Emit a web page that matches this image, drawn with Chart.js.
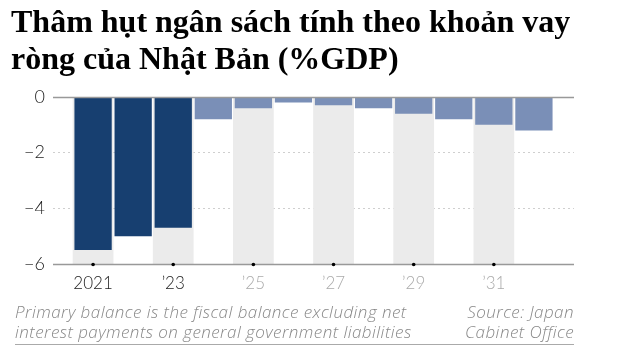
<!DOCTYPE html>
<html>
<head>
<meta charset="utf-8">
<script src="https://cdn.jsdelivr.net/npm/chart.js@4"></script>
<style>
  html, body { margin: 0; padding: 0; background: #fff; }
  #wrap { position: relative; width: 620px; height: 360px; overflow: hidden; }
  #title { position: absolute; left: 11px; top: 3px; font-family: "Liberation Serif", serif; font-weight: bold; font-size: 32px; line-height: 37px; color: #000; white-space: nowrap; }
  .note { position: absolute; top: 302px; font-family: "Open Sans", sans-serif; font-style: italic; font-weight: 300; font-size: 17px; letter-spacing: 0.45px; line-height: 20px; color: #888; white-space: nowrap; }
  #rule { position: absolute; left: 15px; top: 344px; width: 559px; height: 0; border-top: 1.5px solid #aaa; }
  canvas { position: absolute; left: 0; top: 0; }
</style>
</head>
<body>
<div id="wrap">
  <canvas id="myChart" width="620" height="360"></canvas>
  <div id="title">Thâm hụt ngân sách tính theo khoản vay<br>ròng của Nhật Bản (%GDP)</div>
  <div class="note" style="left:15px;">Primary balance is the fiscal balance excluding net<br>interest payments on general government liabilities</div>
  <div class="note" style="right:46px; text-align:right;">Source: Japan<br>Cabinet Office</div>
  <div id="rule"></div>
</div>
<script>
var years = [2021, 2022, 2023, 2024, 2025, 2026, 2027, 2028, 2029, 2030, 2031, 2032];
var balance = [-5.5, -5.0, -4.7, -0.8, -0.4, -0.2, -0.3, -0.4, -0.6, -0.8, -1.0, -1.2];
var tickYears = [2021, 2023, 2025, 2027, 2029, 2031];
var tickLabels = ['2021', '\u201923', '\u201925', '\u201927', '\u201929', '\u201931'];
var yTicks = [0, -2, -4, -6];
var lastActual = 2023;

var barColors = years.map(function (y) { return y <= lastActual ? '#173f70' : '#7a8fb7'; });
// shaded bands behind every other year
var bandYears = years.filter(function (y, i) { return i % 2 === 0; });

var axisLines = {
    id: 'axisLines',
    afterDatasetsDraw: function (chart) {
        var c = chart.ctx, a = chart.chartArea, xs = chart.scales.x, ys = chart.scales.y;
        c.save();
        c.strokeStyle = '#999';
        c.lineWidth = 1.5;
        var py0 = Math.round(ys.getPixelForValue(0)) + 0.5;
        c.beginPath(); c.moveTo(a.left, py0); c.lineTo(a.right, py0); c.stroke();
        var py6 = Math.round(ys.getPixelForValue(-6)) + 0.5;
        c.beginPath(); c.moveTo(a.left, py6); c.lineTo(a.right, py6); c.stroke();
        c.fillStyle = '#000';
        tickYears.forEach(function (t) {
            c.beginPath();
            c.arc(xs.getPixelForValue(t), py6, 1.8, 0, Math.PI * 2);
            c.fill();
        });
        c.restore();
    }
};

var ctx = document.getElementById('myChart').getContext('2d');
var myChart = new Chart(ctx, {
    type: 'bar',
    data: {
        datasets: [{
            label: 'Balance',
            data: years.map(function (y, i) { return { x: y, y: balance[i] }; }),
            backgroundColor: barColors,
            barPercentage: 0.93,
            categoryPercentage: 1,
            grouped: false,
            order: 1
        },
        {
            label: 'Band',
            data: bandYears.map(function (y) { return { x: y, y: -6 }; }),
            backgroundColor: '#ebebeb',
            barPercentage: 1,
            categoryPercentage: 1,
            grouped: false,
            order: 2
        }]
    },
    plugins: [axisLines],
    options: {
        responsive: false,
        animation: false,
        layout: { padding: { top: 97, right: 46, bottom: 0, left: 0 } },
        plugins: {
            legend: { display: false },
            tooltip: { enabled: false }
        },
        scales: {
            x: {
                type: 'linear',
                min: 2020,
                max: 2033,
                offset: false,
                afterBuildTicks: function (scale) {
                    scale.ticks = tickYears.map(function (v) { return { value: v }; });
                },
                afterFit: function (scale) { scale.height = 96; },
                grid: { display: false },
                border: { display: false },
                ticks: {
                    autoSkip: false,
                    maxRotation: 0,
                    padding: 1,
                    color: function (c) { return c.tick && c.tick.value <= lastActual ? '#222' : '#aaa'; },
                    font: { family: 'Lato', weight: '300', size: 17 },
                    callback: function (v) { return tickLabels[tickYears.indexOf(v)]; }
                }
            },
            y: {
                min: -6,
                max: 0,
                afterBuildTicks: function (scale) {
                    scale.ticks = yTicks.map(function (v) { return { value: v }; });
                },
                afterFit: function (scale) { scale.width = 53; },
                grid: {
                    drawTicks: false,
                    lineWidth: 1,
                    color: function (c) { return (c.tick && (c.tick.value === 0 || c.tick.value === -6)) ? 'rgba(0,0,0,0)' : '#cfcfcf'; }
                },
                border: { display: false, dash: [2, 3] },
                ticks: {
                    padding: 8,
                    color: '#222',
                    font: { family: 'Lato', weight: '300', size: 18 },
                    callback: function (v) { return v < 0 ? '\u2212' + Math.abs(v) : String(v); }
                }
            }
        }
    }
});
</script>
</body>
</html>
